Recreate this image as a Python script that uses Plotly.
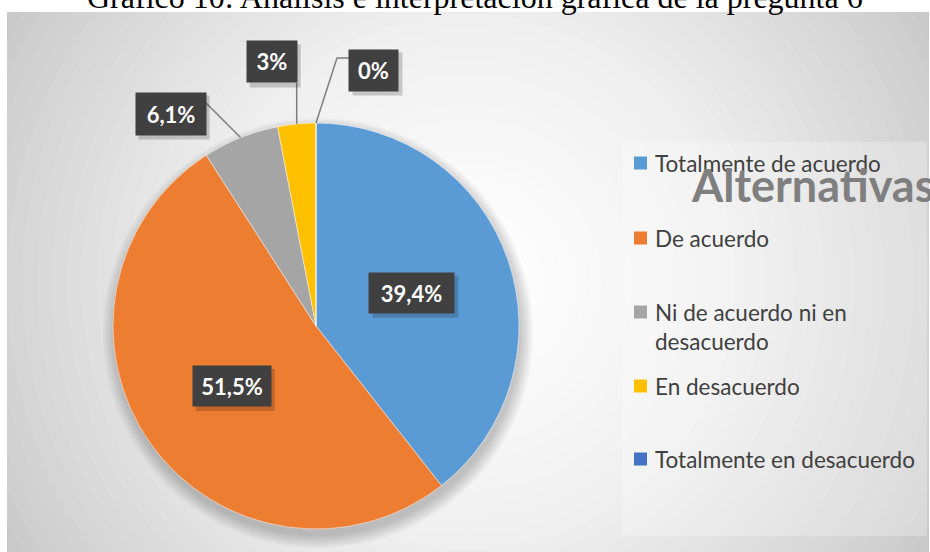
import math
import plotly.graph_objects as go

# ---------------- data ----------------
categories = ["Totalmente de acuerdo", "De acuerdo", "Ni de acuerdo ni en desacuerdo",
              "En desacuerdo", "Totalmente en desacuerdo"]
legend_labels = ["Totalmente de acuerdo", "De acuerdo", "Ni de acuerdo ni en<br>desacuerdo",
                 "En desacuerdo", "Totalmente en desacuerdo"]
counts = [13, 17, 2, 1, 0]
value_labels = ["39,4%", "51,5%", "6,1%", "3%", "0%"]
colors = ["#5B9BD5", "#ED7D31", "#A5A5A5", "#FFC000", "#4472C4"]
title_text = "Gráfico 10: Análisis e interpretación gráfica de la pregunta 6"
chart_title = "Alternativas"

# ---------------- geometry / style ----------------
W, H = 930, 552
CX, CY, R = 316, 326, 203
FONT = "Lato"

def px(x):
    return x / W

def py(y):
    return 1 - y / H

# label placement per slice: ("in", radial fraction) or ("out", box offset, leader waypoints rel. to box centre)
label_cfg = [
    ("in", 0.5, None),
    ("in", 0.51, None),
    ("out", (-70, -24), [(35, -11)]),
    ("out", (-25, -62), [(25, 21)]),
    ("out", (58, -53), [(-37, -12), (-25, -12)]),
]
box_sizes = [(85, 40), (78, 40), (70, 42), (50, 41), (49, 41)]
legend_y = [163, 238, 312, 386, 459]

fig = go.Figure()
fig.add_trace(go.Pie(
    labels=categories,
    values=counts,
    marker=dict(colors=colors, line=dict(color="white", width=0.5)),
    sort=False,
    direction="clockwise",
    rotation=0,
    textinfo="none",
    hoverinfo="label+percent",
    showlegend=False,
    domain=dict(x=[px(CX - R), px(CX + R)], y=[py(CY + R), py(CY - R)]),
))

shapes = []
# chart area background with radial gradient
shapes.append(dict(type="rect", xref="paper", yref="paper", x0=px(7), x1=px(929), y0=py(552), y1=py(12),
                   fillcolor="#c6c6c6", line=dict(width=0), layer="below"))
GX, GY, GR, N = 468, 282, 535, 36
for j in range(N, 0, -1):
    r = GR * j / N
    a = 1 - ((j - 1) / j) ** 2
    shapes.append(dict(type="circle", xref="paper", yref="paper",
                       x0=px(GX - r), x1=px(GX + r), y0=py(GY + r), y1=py(GY - r),
                       fillcolor=f"rgba(255,255,255,{a:.4f})", line=dict(width=0), layer="below"))
# legend area (slightly lighter)
shapes.append(dict(type="rect", xref="paper", yref="paper", x0=px(622), x1=px(927), y0=py(536), y1=py(142),
                   fillcolor="rgba(255,255,255,0.25)", line=dict(width=0), layer="below"))
# soft shadow under the pie
for k in range(0, 14, 2):
    rr = R + k
    shapes.append(dict(type="circle", xref="paper", yref="paper",
                       x0=px(CX + 2 - rr), x1=px(CX + 2 + rr), y0=py(CY + 7 + rr), y1=py(CY + 7 - rr),
                       fillcolor="rgba(0,0,0,0.03)", line=dict(width=0), layer="below"))

annotations = []
# title (cut at the top in the original)
annotations.append(dict(text=title_text, x=px(475), y=py(-3), xref="paper", yref="paper",
                        xanchor="center", yanchor="middle", showarrow=False,
                        font=dict(family="Liberation Serif", size=32, color="black")))

total = sum(counts)
start = 0
for i, v in enumerate(counts):
    a0 = start / total * 360
    a1 = (start + v) / total * 360
    start += v
    mid = math.radians((a0 + a1) / 2)
    kind, p, extra = label_cfg[i]
    bw, bh = box_sizes[i]
    if kind == "in":
        bx = CX + p * R * math.sin(mid)
        by = CY - p * R * math.cos(mid)
    else:
        ex = CX + R * math.sin(mid)
        ey = CY - R * math.cos(mid)
        bx, by = ex + p[0], ey + p[1]
        path = f"M {px(ex)},{py(ey)}"
        for (dx, dy) in extra:
            path += f" L {px(bx + dx)},{py(by + dy)}"
        shapes.append(dict(type="path", xref="paper", yref="paper", path=path,
                           line=dict(color="#7F7F7F", width=1.5), layer="above"))
    # box shadow
    shapes.append(dict(type="rect", xref="paper", yref="paper",
                       x0=px(bx - bw / 2 + 3), x1=px(bx + bw / 2 + 4),
                       y0=py(by + bh / 2 + 5), y1=py(by - bh / 2 + 3),
                       fillcolor="rgba(0,0,0,0.18)", line=dict(width=0), layer="above"))
    annotations.append(dict(text=f"<b>{value_labels[i]}</b>", x=px(bx), y=py(by), xref="paper", yref="paper",
                            xanchor="center", yanchor="middle", showarrow=False,
                            width=bw, height=bh, borderpad=0, bgcolor="#404040",
                            font=dict(family=FONT, size=22, color="white")))

# legend (manual)
for i, lab in enumerate(legend_labels):
    yc = legend_y[i]
    shapes.append(dict(type="rect", xref="paper", yref="paper",
                       x0=px(634), x1=px(647), y0=py(yc + 6.5), y1=py(yc - 6.5),
                       fillcolor=colors[i], line=dict(width=0), layer="above"))
    annotations.append(dict(text=lab, x=px(653), y=py(yc - 15), xref="paper", yref="paper",
                            xanchor="left", yanchor="top", align="left", showarrow=False,
                            font=dict(family=FONT, size=22.5, color="#404040")))

annotations.append(dict(text=f"<b>{chart_title}</b>", x=px(689), y=py(185), xref="paper", yref="paper",
                        xanchor="left", yanchor="middle", showarrow=False,
                        font=dict(family=FONT, size=45, color="#7F7F7F")))

fig.update_layout(
    width=W, height=H,
    margin=dict(l=0, r=0, t=0, b=0),
    paper_bgcolor="white",
    plot_bgcolor="white",
    showlegend=False,
    shapes=shapes,
    annotations=annotations,
)

fig.write_html("out.html", config={"displayModeBar": False},
               post_script="document.body.style.margin='0px';")
